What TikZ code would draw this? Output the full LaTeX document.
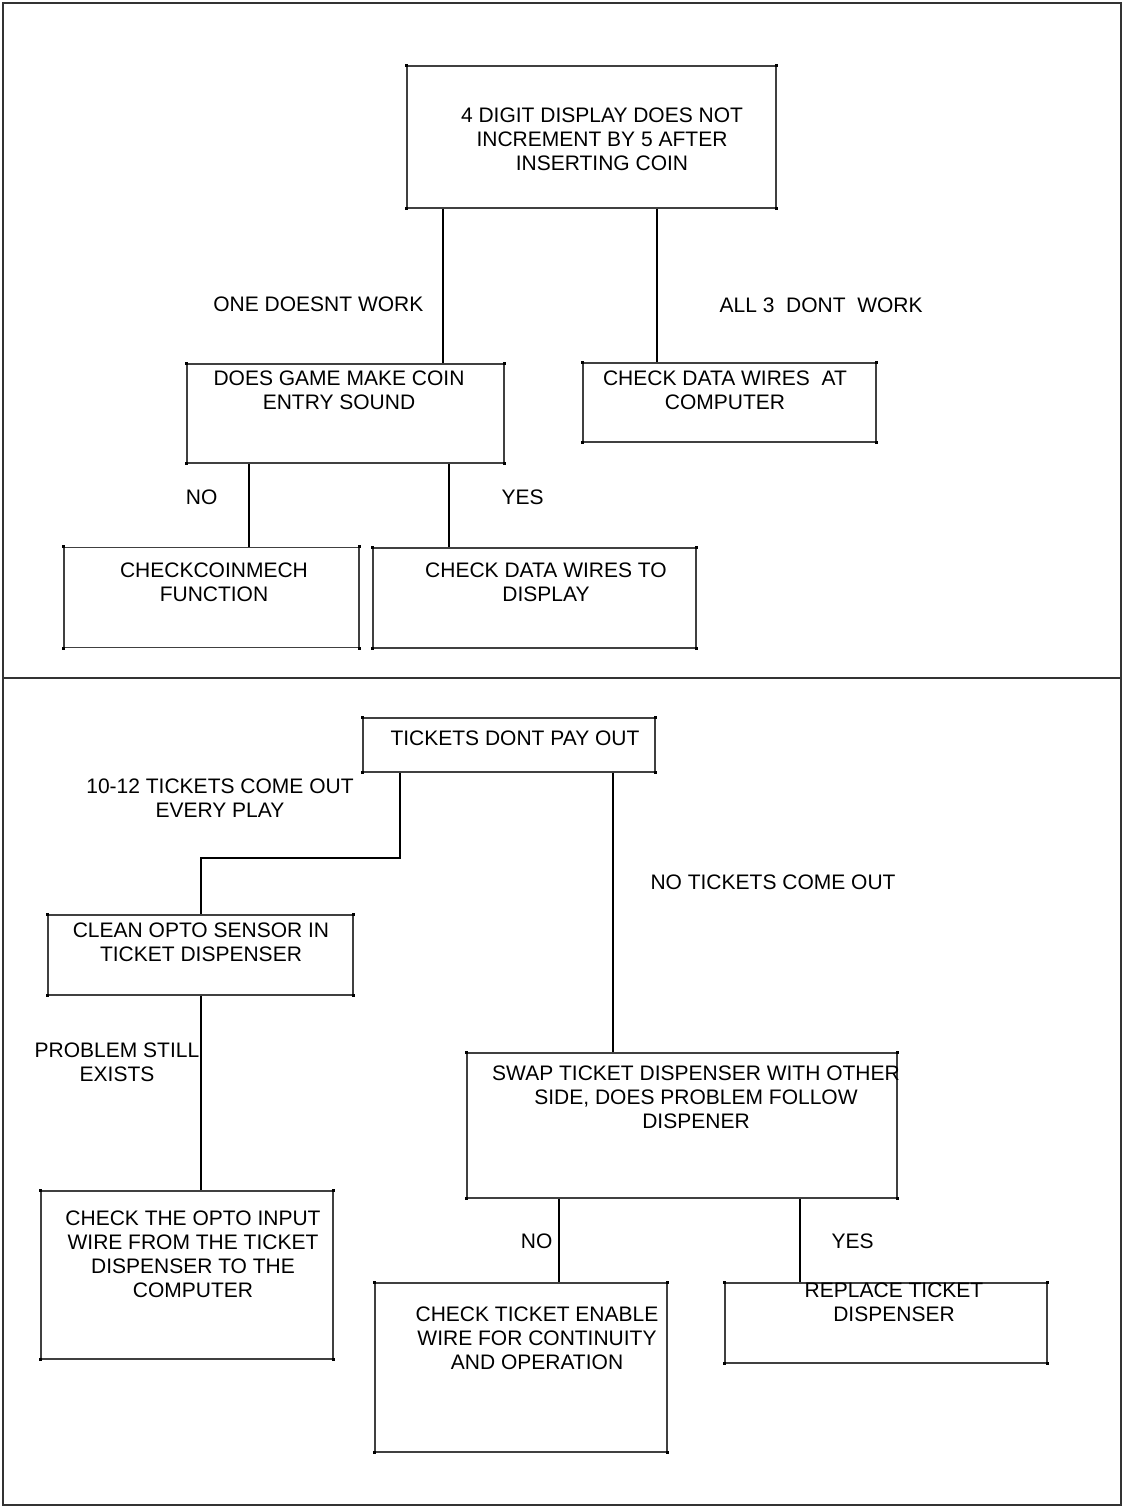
\documentclass[tikz,border=0pt]{standalone}
\usepackage{fontspec}
\setmainfont{Liberation Sans}
\usetikzlibrary{calc}

\begin{document}
\begin{tikzpicture}[x=0.5pt, y=-0.5pt,
	            box/.style={
	            draw=black!75,
	            line width=0.6pt,
	            rectangle,
	            inner sep=0pt,
	            },
	            txt/.style={
	            align=center,
	            inner sep=0pt,
	            font=\fontsize{10.5}{12}\selectfont,
	            },
	            every path/.style={
                    line width=0.6pt
                }]

	        \useasboundingbox (0,0) rectangle (1123,1507);
	        \draw[black!80] (3,3) rectangle (1121,1505);
	        \draw[black!80] (3,678) -- (1121,678);

	        % upper chart
	        \node[box, minimum width=184.5pt, minimum height=71pt] (top) at (591.5,137) {};
	        \node[box, minimum width=158.5pt, minimum height=49.5pt] (game) at (345.5,413.5) {};
	        \node[box, minimum width=146.5pt, minimum height=39.5pt] (wires) at (729.5,402.5) {};
	        \node[box, minimum width=147.5pt, minimum height=50pt] (coinmech) at (211.5,597.5) {};
	        \node[box, minimum width=161.5pt, minimum height=50pt] (display) at (534.5,598) {};

	        \node[txt] (top-t) at (602,139) {4 DIGIT DISPLAY DOES NOT\\INCREMENT BY 5 AFTER\\INSERTING COIN};
	        \node[txt] (game-t) at (339,390) {DOES GAME MAKE COIN\\ENTRY SOUND};
	        \node[txt] (wires-t) at (725,390) {CHECK DATA WIRES\ \ AT\\COMPUTER};
	        \node[txt] (coinmech-t) at (214,582) {CHECKCOINMECH\\FUNCTION};
	        \node[txt] (display-t) at (546,582) {CHECK DATA WIRES TO\\DISPLAY};

	        \draw (top.south -| 443,0) -- node[txt, pos=.62, left=9.5pt] {ONE DOESNT WORK} (game.north -| 443,0);
	        \draw (top.south -| 657,0) -- node[txt, pos=.63, right=31pt] {ALL 3\ \ DONT\ \ WORK} (wires.north -| 657,0);
	        \draw (game.south -| 249,0) -- node[txt, pos=.4, left=15.5pt] {NO} (coinmech.north -| 249,0);
	        \draw (game.south -| 449,0) -- node[txt, pos=.4, right=26pt] {YES} (display.north -| 449,0);

	        % lower chart
	        \node[box, minimum width=146pt, minimum height=27pt] (tickets) at (509,745) {};
	        \node[box, minimum width=152.5pt, minimum height=40pt] (clean) at (200.5,955) {};
	        \node[box, minimum width=146pt, minimum height=84pt] (optoin) at (187,1275) {};
	        \node[box, minimum width=215pt, minimum height=72.5pt] (swap) at (682,1125.5) {};
	        \node[box, minimum width=146pt, minimum height=84.5pt] (enable) at (521,1367.5) {};
	        \node[box, minimum width=161pt, minimum height=40pt] (replace) at (886,1323) {};

	        \node[txt] (tickets-t) at (515,738) {TICKETS DONT PAY OUT};
	        \node[txt] (clean-t) at (201,942) {CLEAN OPTO SENSOR IN\\TICKET DISPENSER};
	        \node[txt] (optoin-t) at (193,1254) {CHECK THE OPTO INPUT\\WIRE FROM THE TICKET\\DISPENSER TO THE\\COMPUTER};
	        \node[txt] (swap-t) at (696,1097) {SWAP TICKET DISPENSER WITH OTHER\\SIDE, DOES PROBLEM FOLLOW\\DISPENER};
	        \node[txt] (enable-t) at (537,1338) {CHECK TICKET ENABLE\\WIRE FOR CONTINUITY\\AND OPERATION};
	        \node[txt] (replace-t) at (894,1302) {REPLACE TICKET\\DISPENSER};

	        \node[txt] (many) at (220,798) {10-12 TICKETS COME OUT\\EVERY PLAY};
	        \node[txt] (none) at (773,882) {NO TICKETS COME OUT};
	        \node[txt] (still) at (117,1062) {PROBLEM STILL\\EXISTS};

	        \draw (tickets.south -| 400,0) |- (201,858) -- (clean.north -| 201,0);
	        \draw (tickets.south -| 613,0) -- (swap.north -| 613,0);
	        \draw (clean.south -| 201,0) -- (optoin.north -| 201,0);
	        \draw (swap.south -| 559,0) -- node[txt, pos=.51, left=3pt] {NO} (enable.north -| 559,0);
	        \draw (swap.south -| 800,0) -- node[txt, pos=.51, right=15.5pt] {YES} (replace.north -| 800,0);

	        % corner marks
	        \foreach \n in {top,game,wires,coinmech,display,tickets,clean,optoin,swap,enable,replace}
	            \foreach \c in {north west,north east,south west,south east}
	                \fill (\n.\c) +(-1.5,-1.5) rectangle +(1.5,1.5);

	    \end{tikzpicture}
\end{document}
